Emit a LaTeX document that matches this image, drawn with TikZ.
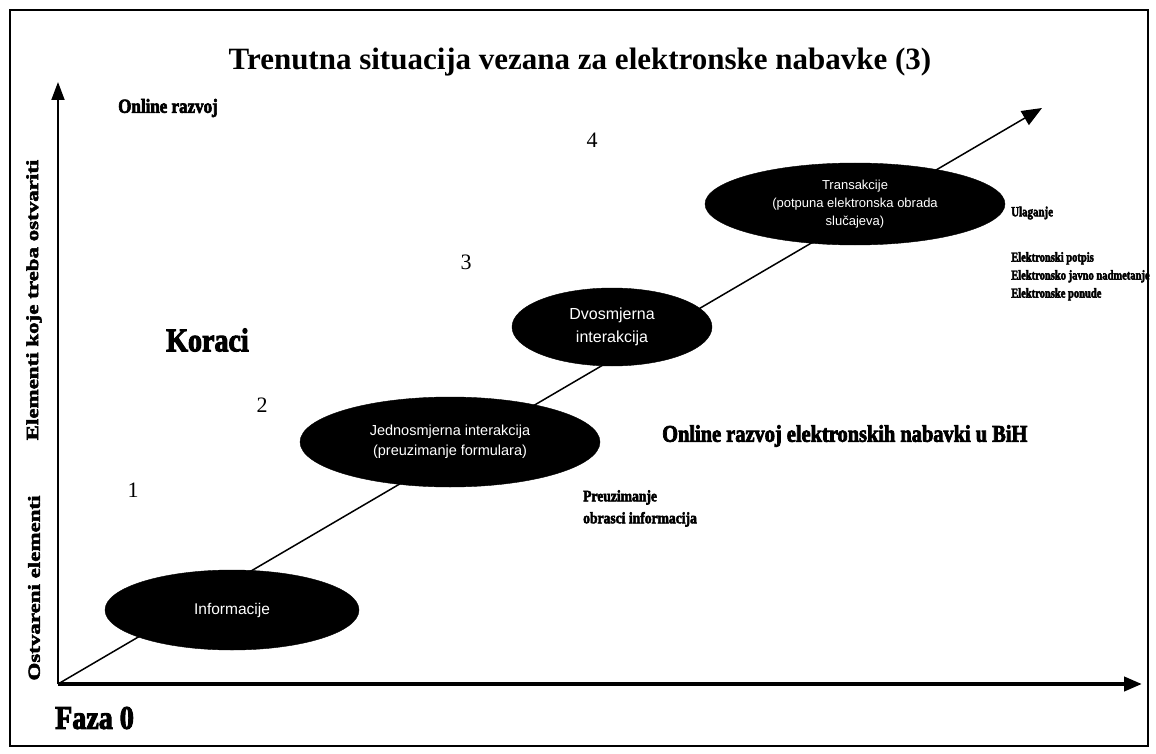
\documentclass[tikz,border=0pt]{standalone}
\usepackage{fontspec}
\setmainfont{Liberation Serif}
\newfontfamily\heavy{Liberation Serif Bold}[FakeStretch=0.85,FakeBold=3]
\newfontfamily\heavynarrow{Liberation Serif Bold}[FakeStretch=0.78,FakeBold=3]
\newfontfamily\heavywide{Liberation Serif Bold}[FakeStretch=1.35,FakeBold=3]
\newfontfamily\ellfont{Liberation Sans}
\usetikzlibrary{arrows.meta,shapes.geometric}
\tikzset{
  stage/.style={ellipse, fill=black, draw=black, inner sep=0pt, text=white, align=center},
  heavytext/.style={inner sep=0pt, align=left},
  num/.style={inner sep=0pt, font=\fontsize{22}{24}\selectfont},
}
\begin{document}
\begin{tikzpicture}[x=1pt,y=-1pt]
\useasboundingbox (0,0) rectangle (1156,754);
\fill[white] (0,0) rectangle (1156,754);
\draw[line width=2pt] (10,10) rectangle (1148,746);

\node (title) at (580,62) {\fontsize{31}{34}\selectfont\bfseries Trenutna situacija vezana za elektronske nabavke (3)};

\coordinate (O) at (58,684);
\coordinate (ytip) at (58,82);
\coordinate (xtip) at (1142,684);
\coordinate (dtip) at (1042,108);
\draw[line width=1.8pt,-{Triangle[width=13pt,length=18pt]}] (O) -- (ytip);
\draw[line width=4pt,-{Triangle[width=14pt,length=18pt]}] (O) -- (xtip);
\draw[line width=1.5pt,-{Triangle[width=16pt,length=20pt]}] (O) -- (dtip);

\node[stage, minimum width=254pt, minimum height=80pt, font=\ellfont\fontsize{15.5}{18}\selectfont] (e1) at (232,610) {Informacije};
\node[stage, minimum width=300pt, minimum height=90pt, font=\ellfont\fontsize{14.5}{20}\selectfont] (e2) at (450,442) {Jednosmjerna interakcija\\(preuzimanje formulara)};
\node[stage, minimum width=200pt, minimum height=78pt, font=\ellfont\fontsize{16}{23}\selectfont] (e3) at (612,327) {Dvosmjerna\\interakcija};
\node[stage, minimum width=300pt, minimum height=82pt, font=\ellfont\fontsize{13}{18}\selectfont] (e4) at (855,204) {Transakcije\\(potpuna elektronska obrada\\slučajeva)};

\node[num] (n1) at (133,490) {1};
\node[num] (n2) at (262,405) {2};
\node[num] (n3) at (466,262) {3};
\node[num] (n4) at (592,140) {4};

\node[heavytext, anchor=west, font=\heavy\fontsize{20}{22}\selectfont] (online) at (118,108) {Online razvoj};
\node[heavytext, anchor=west, font=\heavy\fontsize{33}{36}\selectfont] (koraci) at (166,340) {Koraci};
\node[heavytext, anchor=west, font=\heavy\fontsize{33}{36}\selectfont] (faza) at (55,718) {Faza 0};
\node[heavytext, anchor=west, font=\heavy\fontsize{24}{26}\selectfont] (bih) at (662,436) {Online razvoj elektronskih nabavki u BiH};
\node[heavytext, anchor=north west, font=\heavy\fontsize{16}{22}\selectfont] (preuz) at (583,490) {Preuzimanje\\obrasci informacija};
\node[heavytext, anchor=west, font=\heavynarrow\fontsize{14}{16}\selectfont] (ulaz) at (1011,213) {Ulaganje};
\node[heavytext, anchor=north west, font=\heavynarrow\fontsize{13.5}{18}\selectfont] (elist) at (1011,252) {Elektronski potpis\\Elektronsko javno nadmetanje\\Elektronske ponude};

\node[heavytext, rotate=90, font=\heavywide\fontsize{17}{18}\selectfont] (ostv) at (34,588) {Ostvareni elementi};
\node[heavytext, rotate=90, font=\heavywide\fontsize{17}{18}\selectfont] (treba) at (34,300) {Elementi koje treba ostvariti};
\end{tikzpicture}
\end{document}
